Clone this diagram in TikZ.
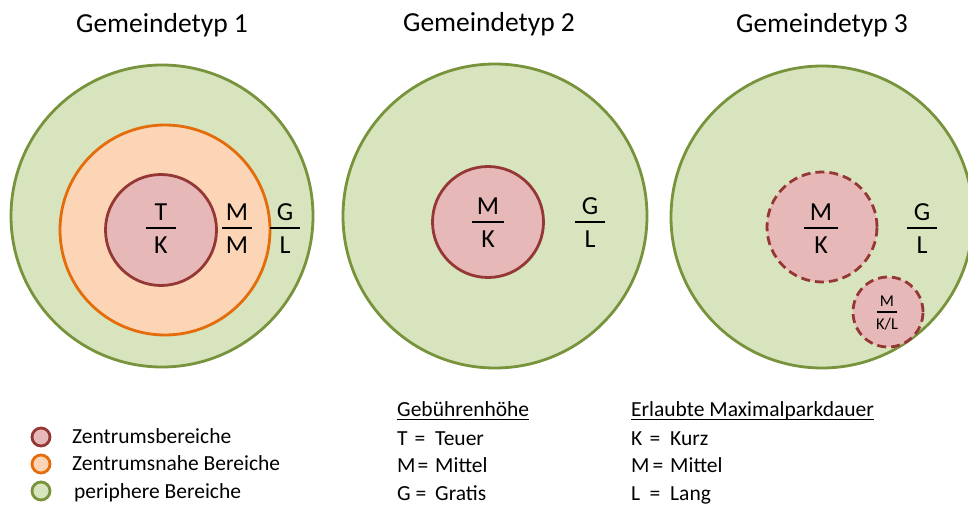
\documentclass[tikz,border=0pt]{standalone}
\usepackage{fontspec}
\setmainfont{Carlito}
\definecolor{grfill}{HTML}{D7E4BD}
\definecolor{grline}{HTML}{77933C}
\definecolor{orfill}{HTML}{FBD5B5}
\definecolor{orline}{HTML}{E46C0A}
\definecolor{rdfill}{HTML}{E6B9B8}
\definecolor{rdline}{HTML}{953735}
\tikzset{
  zone/.style={circle, line width=2.8pt, inner sep=0pt, minimum size=#1},
  periph/.style={zone=#1, draw=grline, fill=grfill},
  nah/.style={zone=#1, draw=orline, fill=orfill},
  zentrum/.style={zone=#1, draw=rdline, fill=rdfill},
  zentrumdash/.style={zentrum=#1, dash pattern=on 9pt off 5pt},
  title/.style={font=\fontsize{27.5}{30}\selectfont, inner sep=0pt},
  fracletter/.style={font=\fontsize{26}{28}\selectfont, inner sep=0pt},
  smallletter/.style={font=\fontsize{16.5}{18}\selectfont, inner sep=0pt},
  fracbar/.style={line width=2.2pt},
  legtext/.style={font=\fontsize{21.5}{23}\selectfont, inner sep=0pt, anchor=base west},
  legdot/.style={circle, line width=2.8pt, inner sep=0pt, minimum size=18pt},
}
% fraction: name, x, y, top, bottom, half bar width
\newcommand\bruch[6]{%
  \node[fracletter] (#1-t) at (#2,#3-16) {#4};
  \node[fracletter] (#1-b) at (#2,#3+17) {#5};
  \draw[fracbar] (#2-#6,#3) -- (#2+#6,#3);
}
\begin{document}
\begin{tikzpicture}[x=1pt,y=-1pt]
\useasboundingbox (0,0) rectangle (968,505);

% titles
\node[title] (t1) at (162,25) {Gemeindetyp 1};
\node[title] (t2) at (489,24) {Gemeindetyp 2};
\node[title] (t3) at (822,25) {Gemeindetyp 3};

% type 1
\node[periph=302pt] (c1) at (162,216) {};
\node[nah=210pt] (c1n) at (165,230) {};
\node[zentrum=111pt] (c1z) at (161,230) {};
\bruch{f1a}{161}{228}{T}{K}{15}
\bruch{f1b}{237}{228}{M}{M}{15}
\bruch{f1c}{285}{228}{G}{L}{15}

% type 2
\node[periph=304pt] (c2) at (495,216) {};
\node[zentrum=111pt] (c2z) at (488,222) {};
\bruch{f2a}{488}{222}{M}{K}{16}
\bruch{f2b}{590}{222}{G}{L}{15}

% type 3
\node[periph=302pt] (c3) at (822,217) {};
\node[zentrumdash=110pt] (c3z) at (822,227) {};
\node[zentrumdash=70pt] (c3s) at (888,312) {};
\bruch{f3a}{821}{228}{M}{K}{17}
\bruch{f3b}{922}{228}{G}{L}{15}
\node[smallletter] (f3c-t) at (887,301) {M};
\node[smallletter] (f3c-b) at (887,324) {K/L};
\draw[line width=1.7pt] (877,312) -- (897,312);

% legend of zones
\node[legdot, draw=rdline, fill=rdfill] (l1) at (41,437) {};
\node[legdot, draw=orline, fill=orfill] (l2) at (41,464) {};
\node[legdot, draw=grline, fill=grfill] (l3) at (41,491) {};
\node[legtext] (l1t) at (72,443) {Zentrumsbereiche};
\node[legtext] (l2t) at (72,470) {Zentrumsnahe Bereiche};
\node[legtext] (l3t) at (74,498) {periphere Bereiche};

% fee key
\node[legtext] (gh) at (397,416) {Gebührenhöhe};
\draw[line width=1pt] ([yshift=-3.5pt]gh.base west) -- ([yshift=-3.5pt]gh.base east);
\node[legtext] (gk1) at (397,445) {T};
\node[legtext, anchor=base] (ge1) at (420,445) {=};
\node[legtext] (gw1) at (435,445) {Teuer};
\node[legtext] (gk2) at (397,472) {M};
\node[legtext, anchor=base] (ge2) at (423,472) {=};
\node[legtext] (gw2) at (435,472) {Mittel};
\node[legtext] (gk3) at (397,500) {G};
\node[legtext, anchor=base] (ge3) at (421,500) {=};
\node[legtext] (gw3) at (435,500) {Gratis};

% parking duration key
\node[legtext] (pd) at (631,416) {Erlaubte Maximalparkdauer};
\draw[line width=1pt] ([yshift=-3.5pt]pd.base west) -- ([yshift=-3.5pt]pd.base east);
\node[legtext] (pk1) at (631,445) {K};
\node[legtext, anchor=base] (pe1) at (655,445) {=};
\node[legtext] (pw1) at (670,445) {Kurz};
\node[legtext] (pk2) at (631,472) {M};
\node[legtext, anchor=base] (pe2) at (658,472) {=};
\node[legtext] (pw2) at (670,472) {Mittel};
\node[legtext] (pk3) at (631,500) {L};
\node[legtext, anchor=base] (pe3) at (655,500) {=};
\node[legtext] (pw3) at (670,500) {Lang};
\end{tikzpicture}
\end{document}
